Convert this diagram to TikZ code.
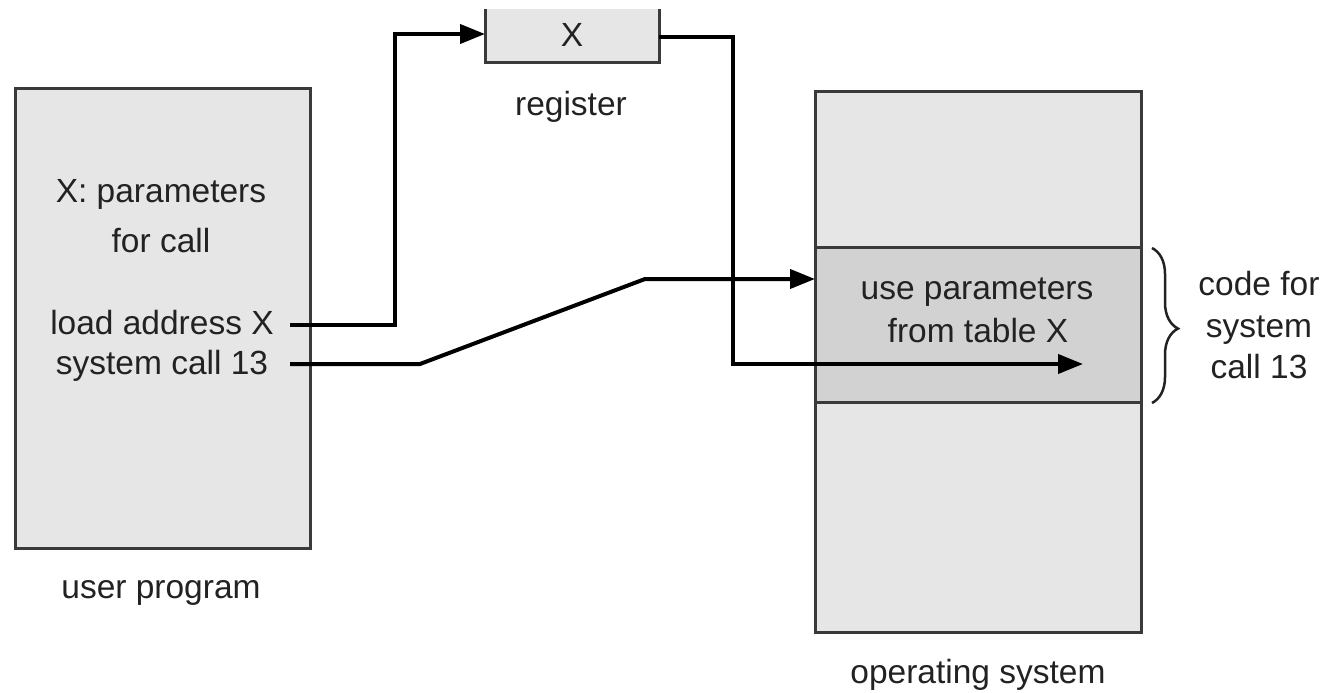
\documentclass[tikz,border=0pt]{standalone}
\usepackage{fontspec}
\setmainfont{Liberation Sans}
\usetikzlibrary{arrows.meta,decorations.pathreplacing}
\definecolor{boxfill}{HTML}{E6E6E6}
\definecolor{bandfill}{HTML}{D2D2D2}
\definecolor{edge}{HTML}{3A3A3A}
\definecolor{ink}{HTML}{222222}
\tikzset{
  x=1pt, y=-1pt,
  lbl/.style={inner sep=0pt, anchor=base, text=ink, font=\fontsize{33.5}{41}\selectfont},
  memblock/.style={fill=boxfill, draw=edge, line width=3pt},
  wire/.style={line width=4pt, line join=miter, -{Triangle[length=25pt,width=19pt]}},
}
\begin{document}
\begin{tikzpicture}
\useasboundingbox (0,0) rectangle (1325,693);

% user program
\draw[memblock] (15,88) rectangle (310,548);
\node[lbl] (xpar) at (161,202) {X: parameters};
\node[lbl] (forcall) at (161,252) {for call};
\node[lbl] (load) at (162,334) {load address X};
\node[lbl] (sys) at (162,374) {system call 13};
\node[lbl] (up) at (161,598) {user program};

% register (cut off at the top)
\fill[boxfill] (485,9) rectangle (659,63);
\draw[edge, line width=3pt] (485,9) -- (485,63) -- (659,63) -- (659,9);
\node[lbl] (regx) at (572,47) {X};
\node[lbl] (reglbl) at (571,115) {register};
\coordinate (regin) at (485,34);
\coordinate (regout) at (659,37);

% operating system
\draw[memblock] (815,91) rectangle (1141,632);
\fill[bandfill] (815,247) rectangle (1141,402);
\draw[edge, line width=3pt] (815,247) -- (1141,247) (815,402) -- (1141,402);
\draw[edge, line width=3pt] (815,91) rectangle (1141,632);
\node[lbl] (use) at (977,299) {use parameters};
\node[lbl] (tab) at (978,342) {from table X};
\node[lbl] (os) at (978,683) {operating system};
\coordinate (osin) at (815,279);
\coordinate (target) at (1083,364);

% brace marking the system-call code
\draw[ink, line width=2.5pt, decorate, decoration={brace, amplitude=26pt, aspect=0.52}]
  (1152,248) -- (1152,403);
\node[lbl] (code) at (1259,295) {code for};
\node[lbl] (codesys) at (1259,337) {system};
\node[lbl] (code13) at (1259,378) {call 13};

% connectors
\draw[wire] (290,325) coordinate (a0) -- (395,325) -- (395,34) -- (regin);
\draw[wire] (regout) -- (733,37) -- (733,364) -- (target);
\draw[wire] (290,364) coordinate (b0) -- (420,364) -- (645,279) -- (osin);
\end{tikzpicture}
\end{document}
